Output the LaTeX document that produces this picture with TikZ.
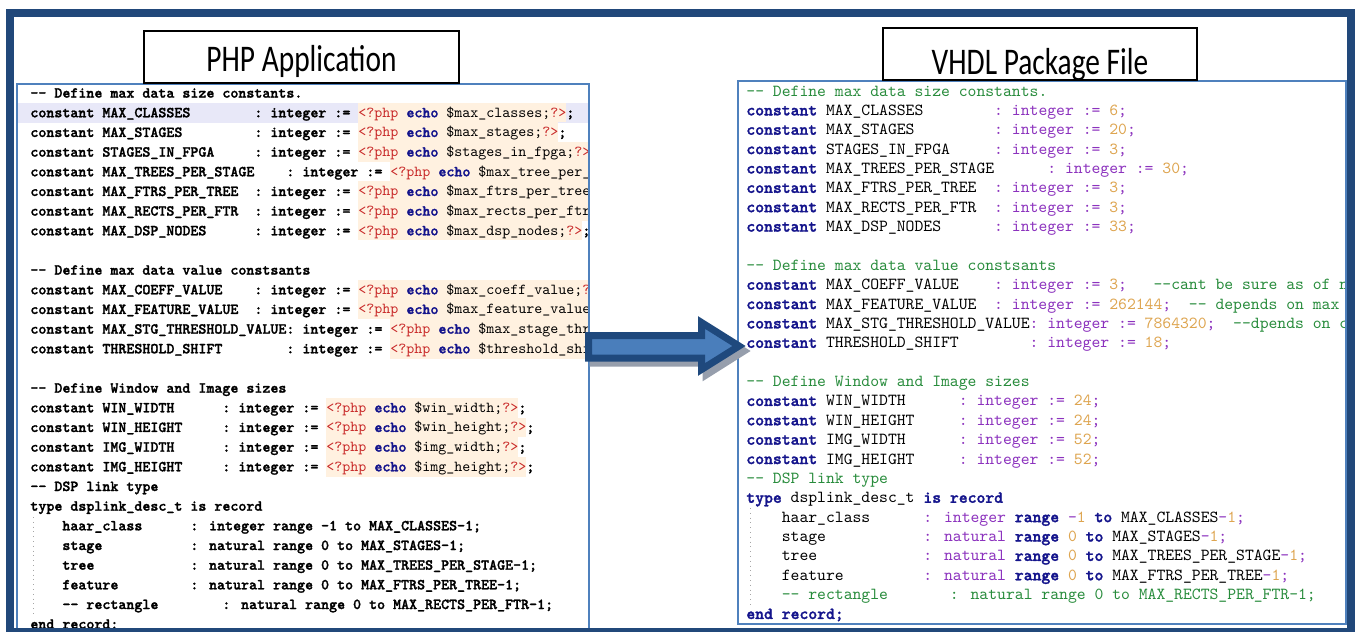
\documentclass[tikz,border=0pt]{standalone}
\usepackage{fontspec}
\newfontfamily\titlefont{Carlito}
\newfontfamily\codefont{lmmono10-regular.otf}
\newfontfamily\heavyfont{lmmonolt10-bold.otf}[FakeBold=1.6]
\definecolor{framebl}{RGB}{33,72,122}
\definecolor{panelbl}{RGB}{79,129,189}
\definecolor{arrowfill}{RGB}{74,126,187}
\definecolor{arrowline}{RGB}{31,73,125}
\definecolor{arrowshadow}{RGB}{150,158,172}
\definecolor{kwblue}{RGB}{20,20,140}
\definecolor{phpred}{RGB}{200,40,40}
\definecolor{peach}{RGB}{255,241,224}
\definecolor{lavender}{RGB}{232,232,248}
\definecolor{typurple}{RGB}{140,50,190}
\definecolor{numorange}{RGB}{222,165,80}
\definecolor{cmgreen}{RGB}{40,140,60}
\setlength{\fboxsep}{0pt}
\newcommand\ddash{-\kern0pt-}
\newcommand\lstrut{\rule[-2.6pt]{0pt}{9.83pt}}
\newcommand\phpecho[1]{\colorbox{peach}{\lstrut\textcolor{phpred}{{\codefont <?php}}~\textcolor{kwblue}{echo}~{\codefont\$#1;}\textcolor{phpred}{{\codefont ?>}}};}
\newcommand\vkw[1]{\textcolor{kwblue}{\heavyfont #1}}
\newcommand\vty[1]{\textcolor{typurple}{#1}}
\newcommand\vnum[1]{\textcolor{numorange}{#1}}
\newcommand\vcm[1]{\textcolor{cmgreen}{#1}}
\newcommand\lline[2]{\node[lcode] (l#1) at (30,{97.6+19.67*#1}) {#2};}
\newcommand\rline[2]{\node[rcode] (r#1) at (746,{96+19.37*#1}) {#2};}
\tikzset{
  lcode/.style={anchor=base west, inner sep=0pt, font=\heavyfont\fontsize{7.62}{9.83}\selectfont},
  rcode/.style={anchor=base west, inner sep=0pt, font=\codefont\fontsize{8.43}{9.7}\selectfont},
  panel/.style={draw=panelbl, line width=1pt, fill=white},
  titlebox/.style={draw=black, line width=1pt, fill=white},
  titletext/.style={anchor=base, inner sep=0pt, font=\titlefont\fontsize{14.7}{16}\selectfont},
  guide/.style={draw=black!35, line width=0.4pt, dotted},
  blockarrow/.style={fill=arrowfill, draw=arrowline, line width=3.5pt, line join=miter},
  arrowshade/.style={fill=arrowshadow, draw=arrowshadow, line width=3.5pt, line join=miter}
}
\begin{document}
\begin{tikzpicture}[x=0.5pt,y=-0.5pt]
\useasboundingbox (0,0) rectangle (1357,632);
\clip (0,0) rectangle (1357,632);
\fill[white] (0,0) rectangle (1357,632);

% ---------- left panel (PHP) ----------
\coordinate (phpNW) at (17,84);
\coordinate (phpSE) at (589,630);
\fill[white] (phpNW) rectangle (phpSE);
\begin{scope}
\clip (18,85) rectangle (588,629);
\fill[lavender] (18,103.3) rectangle (588,122.8);
\draw[guide] (33,517) -- (33,616);
\lline{0}{\ddash~Define max data size constants.}
\lline{1}{constant MAX\_CLASSES~~~~~~~~: integer := \phpecho{max\_classes}}
\lline{2}{constant MAX\_STAGES~~~~~~~~~: integer := \phpecho{max\_stages}}
\lline{3}{constant STAGES\_IN\_FPGA~~~~~: integer := \phpecho{stages\_in\_fpga}}
\lline{4}{constant MAX\_TREES\_PER\_STAGE~~~~: integer := \phpecho{max\_tree\_per\_stage}}
\lline{5}{constant MAX\_FTRS\_PER\_TREE~~: integer := \phpecho{max\_ftrs\_per\_tree}}
\lline{6}{constant MAX\_RECTS\_PER\_FTR~~: integer := \phpecho{max\_rects\_per\_ftr}}
\lline{7}{constant MAX\_DSP\_NODES~~~~~~: integer := \phpecho{max\_dsp\_nodes}}
\lline{9}{\ddash~Define max data value constsants}
\lline{10}{constant MAX\_COEFF\_VALUE~~~~: integer := \phpecho{max\_coeff\_value}}
\lline{11}{constant MAX\_FEATURE\_VALUE~~: integer := \phpecho{max\_feature\_value}}
\lline{12}{constant MAX\_STG\_THRESHOLD\_VALUE: integer := \phpecho{max\_stage\_threshold}}
\lline{13}{constant THRESHOLD\_SHIFT~~~~~~~~: integer := \phpecho{threshold\_shift}}
\lline{15}{\ddash~Define Window and Image sizes}
\lline{16}{constant WIN\_WIDTH~~~~~~: integer := \phpecho{win\_width}}
\lline{17}{constant WIN\_HEIGHT~~~~~: integer := \phpecho{win\_height}}
\lline{18}{constant IMG\_WIDTH~~~~~~: integer := \phpecho{img\_width}}
\lline{19}{constant IMG\_HEIGHT~~~~~: integer := \phpecho{img\_height}}
\lline{20}{\ddash~DSP link type}
\lline{21}{type dsplink\_desc\_t is record}
\lline{22}{~~~~haar\_class~~~~~~: integer range -1 to MAX\_CLASSES-1;}
\lline{23}{~~~~stage~~~~~~~~~~~: natural range 0 to MAX\_STAGES-1;}
\lline{24}{~~~~tree~~~~~~~~~~~~: natural range 0 to MAX\_TREES\_PER\_STAGE-1;}
\lline{25}{~~~~feature~~~~~~~~~: natural range 0 to MAX\_FTRS\_PER\_TREE-1;}
\lline{26}{~~~~\ddash~rectangle~~~~~~~~: natural range 0 to MAX\_RECTS\_PER\_FTR-1;}
\lline{27}{end record;}
\end{scope}
\draw[panel, fill=none] (phpNW) rectangle (phpSE);

% ---------- right panel (VHDL) ----------
\coordinate (vhdNW) at (738,81);
\coordinate (vhdSE) at (1346,624);
\fill[white] (vhdNW) rectangle (vhdSE);
\begin{scope}
\clip (739,82) rectangle (1345,623);
\draw[guide] (750,508) -- (750,606);
\rline{0}{\vcm{\ddash~Define max data size constants.}}
\rline{1}{\vkw{constant} MAX\_CLASSES~~~~~~~~\vty{: integer :=} \vnum{6}\vty{;}}
\rline{2}{\vkw{constant} MAX\_STAGES~~~~~~~~~\vty{: integer :=} \vnum{20}\vty{;}}
\rline{3}{\vkw{constant} STAGES\_IN\_FPGA~~~~~\vty{: integer :=} \vnum{3}\vty{;}}
\rline{4}{\vkw{constant} MAX\_TREES\_PER\_STAGE~~~~~~\vty{: integer :=} \vnum{30}\vty{;}}
\rline{5}{\vkw{constant} MAX\_FTRS\_PER\_TREE~~\vty{: integer :=} \vnum{3}\vty{;}}
\rline{6}{\vkw{constant} MAX\_RECTS\_PER\_FTR~~\vty{: integer :=} \vnum{3}\vty{;}}
\rline{7}{\vkw{constant} MAX\_DSP\_NODES~~~~~~\vty{: integer :=} \vnum{33}\vty{;}}
\rline{9}{\vcm{\ddash~Define max data value constsants}}
\rline{10}{\vkw{constant} MAX\_COEFF\_VALUE~~~~\vty{: integer :=} \vnum{3}\vty{;}~~~\vcm{\ddash cant be sure as of now}}
\rline{11}{\vkw{constant} MAX\_FEATURE\_VALUE~~\vty{: integer :=} \vnum{262144}\vty{;}~~\vcm{\ddash~depends on max feature value}}
\rline{12}{\vkw{constant} MAX\_STG\_THRESHOLD\_VALUE\vty{: integer :=} \vnum{7864320}\vty{;}~~\vcm{\ddash dpends on coeff}}
\rline{13}{\vkw{constant} THRESHOLD\_SHIFT~~~~~~~~\vty{: integer :=} \vnum{18}\vty{;}}
\rline{15}{\vcm{\ddash~Define Window and Image sizes}}
\rline{16}{\vkw{constant} WIN\_WIDTH~~~~~~\vty{: integer :=} \vnum{24}\vty{;}}
\rline{17}{\vkw{constant} WIN\_HEIGHT~~~~~\vty{: integer :=} \vnum{24}\vty{;}}
\rline{18}{\vkw{constant} IMG\_WIDTH~~~~~~\vty{: integer :=} \vnum{52}\vty{;}}
\rline{19}{\vkw{constant} IMG\_HEIGHT~~~~~\vty{: integer :=} \vnum{52}\vty{;}}
\rline{20}{\vcm{\ddash~DSP link type}}
\rline{21}{\vkw{type} dsplink\_desc\_t \vkw{is record}}
\rline{22}{~~~~haar\_class~~~~~~\vty{: integer} \vkw{range} \vty{-}\vnum{1} \vkw{to} MAX\_CLASSES\vty{-}\vnum{1}\vty{;}}
\rline{23}{~~~~stage~~~~~~~~~~~\vty{: natural} \vkw{range} \vnum{0} \vkw{to} MAX\_STAGES\vty{-}\vnum{1}\vty{;}}
\rline{24}{~~~~tree~~~~~~~~~~~~\vty{: natural} \vkw{range} \vnum{0} \vkw{to} MAX\_TREES\_PER\_STAGE\vty{-}\vnum{1}\vty{;}}
\rline{25}{~~~~feature~~~~~~~~~\vty{: natural} \vkw{range} \vnum{0} \vkw{to} MAX\_FTRS\_PER\_TREE\vty{-}\vnum{1}\vty{;}}
\rline{26}{~~~~\vcm{\ddash~rectangle~~~~~~~: natural range 0 to MAX\_RECTS\_PER\_FTR-1;}}
\rline{27}{\vkw{end record;}}
\end{scope}
\draw[panel, fill=none] (vhdNW) rectangle (vhdSE);

% ---------- title boxes ----------
\draw[titlebox] (144,31) rectangle (459,83);
\node[titletext] (phptitle) at (301.5,71) {\scalebox{1}[1.28]{PHP Application}};
\draw[titlebox] (883,28) rectangle (1197,80);
\begin{scope}
\clip (884,29) rectangle (1196,79.5);
\node[titletext] (vhdltitle) at (1040,74) {\scalebox{1}[1.28]{VHDL Package File}};
\end{scope}

% ---------- block arrow ----------
\path[arrowshade] (593,341) -- (706,341) -- (706,327) -- (744,351) -- (706,375) -- (706,363) -- (593,363) -- cycle;
\path[blockarrow] (588.5,335.5) -- (701.5,335.5) -- (701.5,322.5) -- (739,346) -- (701.5,369.5) -- (701.5,358) -- (588.5,358) -- cycle;

% ---------- outer frame ----------
\draw[framebl, line width=4pt] (10,13) rectangle (1351,632);
\end{tikzpicture}
\end{document}
